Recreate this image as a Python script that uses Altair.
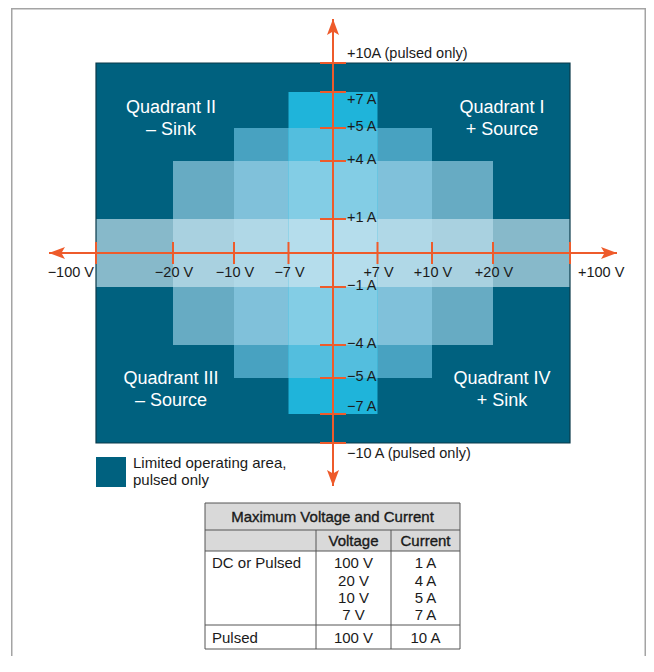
import altair as alt
import pandas as pd

# ------------------------------------------------------------------ data
V_TICKS = [-100, -20, -10, -7, 7, 10, 20, 100]
V_LABELS = ["−100 V", "−20 V", "−10 V", "−7 V", "+7 V", "+10 V", "+20 V", "+100 V"]
A_TICKS = [10, 7, 5, 4, 1, -1, -4, -5, -7, -10]
A_LABELS = ["+10A (pulsed only)", "+7 A", "+5 A", "+4 A", "+1 A",
            "−1 A", "−4 A", "−5 A", "−7 A", "−10 A (pulsed only)"]
LIMIT_V = [100, 20, 10, 7]      # DC / pulsed voltage limits (V)
LIMIT_A = [1, 4, 5, 7]          # matching current limits (A)
PULSED_V = 100
PULSED_A = 10
QUAD_TEXT = ["Quadrant I\n+ Source", "Quadrant II\n– Sink",
             "Quadrant III\n– Source", "Quadrant IV\n+ Sink"]
QUAD_V = [29.4, -22.1, -22.1, 29.4]     # label anchor, volts
QUAD_A = [6.13, 6.13, -5.07, -5.07]     # label anchor (first line), amps
LEGEND_LINES = ["Limited operating area,", "pulsed only"]
TABLE_TITLE = "Maximum Voltage and Current"
TABLE_HEAD = ["Voltage", "Current"]
TABLE_GROUPS = ["DC or Pulsed", "Pulsed"]

# ------------------------------------------------------------------ styles / layout
FONT = "Liberation Sans"
ORANGE = "#ee5b2b"
DARK = "#00617f"
INK = "#1a1a1a"
CELL_COLORS = {
    "1": "#87b9ca", "4": "#67abc3", "4+1": "#a9d1e0",
    "5": "#48a2c1", "5+4": "#80c1da", "5+4+1": "#b0d8e7",
    "7": "#1fb4da", "7+5": "#53bede", "7+5+4": "#83cde5", "7+5+4+1": "#b5ddec",
}
W, H = 635, 648
PAD_L, PAD_T = 3, 0


def px(x):
    return x - 8 - PAD_L


def py(y):
    return y - 8 - PAD_T


AXIS_V_END = 150
AXIS_A_END = 12
X_DOM = [-150, -100, -20, -10, -7, 0, 7, 10, 20, 100, 150]
X_PAGE = [49, 96, 173, 234, 288.5, 333, 377.5, 432, 493, 570, 617]
Y_DOM = [-12, -10, -7, -5, -4, -1, 0, 1, 4, 5, 7, 10, 12]
Y_PAGE = [486, 443, 414, 378, 345, 287, 253, 219, 161, 128, 92, 63, 19]


def vx(field):
    return alt.X(field, type="quantitative", axis=None,
                 scale=alt.Scale(type="linear", domain=X_DOM,
                                 range=[px(p) for p in X_PAGE], nice=False, zero=False))


def ay(field):
    return alt.Y(field, type="quantitative", axis=None,
                 scale=alt.Scale(type="linear", domain=Y_DOM,
                                 range=[py(p) for p in Y_PAGE], nice=False, zero=False))


def lx(field):
    return alt.X(field, type="quantitative", axis=None,
                 scale=alt.Scale(domain=[0, W], range=[0, W], nice=False, zero=False))


def ly(field):
    return alt.Y(field, type="quantitative", axis=None,
                 scale=alt.Scale(domain=[0, H], range=[0, H], nice=False, zero=False))


layers = []

# pulsed-only background box
box = pd.DataFrame({"v1": [-PULSED_V], "v2": [PULSED_V], "a1": [-PULSED_A], "a2": [PULSED_A]})
layers.append(alt.Chart(box).mark_rect(fill=DARK, strokeWidth=0).encode(
    x=vx("v1"), x2="v2", y=ay("a1"), y2="a2"))

# operating regions: painted so that overlaps get their own shade
order_keys = [["1"], ["4", "4+1"], ["5", "5+4", "5+4+1"], ["7", "7+5", "7+5+4", "7+5+4+1"]]
cells = []
for k, keys in enumerate(order_keys):
    for j, key in enumerate(keys):
        v = LIMIT_V[k]
        a = LIMIT_A[k - j]
        cells.append({"v1": -v, "v2": v, "a1": -a, "a2": a, "key": key, "o": len(cells)})
cells = pd.DataFrame(cells)
layers.append(alt.Chart(cells).mark_rect(strokeWidth=0).encode(
    x=vx("v1"), x2="v2", y=ay("a1"), y2="a2",
    color=alt.Color("key:N", legend=None,
                    scale=alt.Scale(domain=list(CELL_COLORS), range=list(CELL_COLORS.values()))),
    order=alt.Order("o:Q")))

layers.append(alt.Chart(box).mark_rect(fillOpacity=0, stroke="#0b3a4a", strokeWidth=1.2).encode(
    x=vx("v1"), x2="v2", y=ay("a1"), y2="a2"))

# quadrant labels
quad = pd.DataFrame({"v": QUAD_V, "a": QUAD_A, "t": QUAD_TEXT})
layers.append(alt.Chart(quad).mark_text(
    color="white", font=FONT, fontSize=18, lineBreak="\n", lineHeight=22,
    align="center", baseline="middle").encode(x=vx("v"), y=ay("a"), text="t:N"))

# axis lines
hline = pd.DataFrame({"v1": [-AXIS_V_END], "v2": [AXIS_V_END], "a": [0]})
vline = pd.DataFrame({"a1": [-AXIS_A_END], "a2": [AXIS_A_END], "v": [0]})
layers.append(alt.Chart(hline).mark_rule(color=ORANGE, strokeWidth=2).encode(
    x=vx("v1"), x2="v2", y=ay("a")))
layers.append(alt.Chart(vline).mark_rule(color=ORANGE, strokeWidth=2).encode(
    y=ay("a1"), y2="a2", x=vx("v")))

# ticks
vt = pd.DataFrame({"v": V_TICKS, "a": 0, "t": V_LABELS})
at = pd.DataFrame({"a": A_TICKS, "v": 0, "t": A_LABELS})
layers.append(alt.Chart(vt).mark_rule(color=ORANGE, strokeWidth=2, yOffset=-11, y2Offset=11).encode(
    x=vx("v"), y=ay("a"), y2="a"))
layers.append(alt.Chart(at).mark_rule(color=ORANGE, strokeWidth=2, xOffset=-13, x2Offset=13).encode(
    y=ay("a"), x=vx("v"), x2="v"))

# arrow heads
arrows = pd.DataFrame({
    "v": [-AXIS_V_END, AXIS_V_END, 0, 0],
    "a": [0, 0, AXIS_A_END, -AXIS_A_END],
    "shape": ["M0,0L2,-0.75L1.55,0L2,0.75Z", "M0,0L-2,-0.75L-1.55,0L-2,0.75Z",
              "M0,0L0.75,2L0,1.55L-0.75,2Z", "M0,0L0.75,-2L0,-1.55L-0.75,-2Z"],
})
layers.append(alt.Chart(arrows).mark_point(filled=True, size=256, opacity=1, color=ORANGE,
                                           strokeWidth=0).encode(
    x=vx("v"), y=ay("a"), shape=alt.Shape("shape:N", scale=None)))

# voltage labels
txt = dict(font=FONT, fontSize=14.5, color=INK, baseline="middle")
layers.append(alt.Chart(vt[vt.v.abs() < 100]).mark_text(align="center", dx=1, dy=20, **txt).encode(
    x=vx("v"), y=ay("a"), text="t:N"))
layers.append(alt.Chart(vt[vt.v < -99]).mark_text(align="right", dx=-2, dy=20, **txt).encode(
    x=vx("v"), y=ay("a"), text="t:N"))
layers.append(alt.Chart(vt[vt.v > 99]).mark_text(align="left", dx=8, dy=20, **txt).encode(
    x=vx("v"), y=ay("a"), text="t:N"))

# current labels
A_DY = {10: -9, 7: 7.5, -7: -7.5, -10: 10.5}
at["dy"] = [A_DY.get(a, -1) for a in at.a]
for dy_val in sorted(set(at.dy)):
    sub = at[at.dy == dy_val]
    layers.append(alt.Chart(sub).mark_text(align="left", dx=14, dy=dy_val, **txt).encode(
        x=vx("v"), y=ay("a"), text="t:N"))

# ------------------------------------------------------------------ layout layer (frame, legend, table)
fr_v = pd.DataFrame({"x": [0.75, W - 0.75], "y1": [0.0, 0.0], "y2": [H + 30, H + 30]})
fr_h = pd.DataFrame({"x1": [0.0], "x2": [W], "y": [0.75]})
layers.append(alt.Chart(fr_v).mark_rule(color="#a4a4a4", strokeWidth=1.5).encode(
    x=lx("x"), y=ly("y1"), y2="y2"))
layers.append(alt.Chart(fr_h).mark_rule(color="#a4a4a4", strokeWidth=1.5).encode(
    x=lx("x1"), x2="x2", y=ly("y")))

leg = pd.DataFrame({"x1": [px(96)], "x2": [px(126)], "y1": [py(457)], "y2": [py(487)]})
layers.append(alt.Chart(leg).mark_rect(fill=DARK).encode(x=lx("x1"), x2="x2", y=ly("y1"), y2="y2"))
legt = pd.DataFrame({"x": [px(133)] * 2, "y": [py(462.5), py(480)], "t": LEGEND_LINES})
layers.append(alt.Chart(legt).mark_text(font=FONT, fontSize=15, color=INK, align="left",
                                        baseline="middle").encode(x=lx("x"), y=ly("y"), text="t:N"))

COL_EDGES = [205, 316, 391, 460]
ROW_EDGES = [503, 530, 551, 625, 649]
BODY_Y = [563, 580.5, 597.5, 614.5]
PULSED_Y = 637.5
HEAD_Y = 540.5
TITLE_Y = 517
GRID = "#555555"

hdr = pd.DataFrame({"x1": [px(COL_EDGES[0])], "x2": [px(COL_EDGES[-1])],
                    "y1": [py(ROW_EDGES[0])], "y2": [py(ROW_EDGES[2])]})
layers.append(alt.Chart(hdr).mark_rect(fill="#d9d9d9").encode(x=lx("x1"), x2="x2", y=ly("y1"), y2="y2"))

hl = pd.DataFrame({"x1": px(COL_EDGES[0]), "x2": px(COL_EDGES[-1]), "y": [py(r) for r in ROW_EDGES]})
layers.append(alt.Chart(hl).mark_rule(color=GRID, strokeWidth=1).encode(x=lx("x1"), x2="x2", y=ly("y")))
vl = pd.DataFrame({"x": [px(c) for c in COL_EDGES],
                   "y1": [py(ROW_EDGES[0]), py(ROW_EDGES[1]), py(ROW_EDGES[1]), py(ROW_EDGES[0])],
                   "y2": py(ROW_EDGES[-1])})
layers.append(alt.Chart(vl).mark_rule(color=GRID, strokeWidth=1).encode(x=lx("x"), y=ly("y1"), y2="y2"))

col_c = [(COL_EDGES[i] + COL_EDGES[i + 1]) / 2 for i in range(3)]
tcells = [{"x": px((COL_EDGES[0] + COL_EDGES[-1]) / 2), "y": py(TITLE_Y), "t": TABLE_TITLE, "al": "center", "w": "head"}]
for i, hname in enumerate(TABLE_HEAD):
    tcells.append({"x": px(col_c[i + 1]), "y": py(HEAD_Y), "t": hname, "al": "center", "w": "head"})
tcells.append({"x": px(COL_EDGES[0] + 7), "y": py(BODY_Y[0]), "t": TABLE_GROUPS[0], "al": "left", "w": "body"})
for i in range(len(LIMIT_V)):
    tcells.append({"x": px(col_c[1]), "y": py(BODY_Y[i]), "t": f"{LIMIT_V[i]} V", "al": "center", "w": "body"})
    tcells.append({"x": px(col_c[2]), "y": py(BODY_Y[i]), "t": f"{LIMIT_A[i]} A", "al": "center", "w": "body"})
tcells.append({"x": px(COL_EDGES[0] + 7), "y": py(PULSED_Y), "t": TABLE_GROUPS[1], "al": "left", "w": "body"})
tcells.append({"x": px(col_c[1]), "y": py(PULSED_Y), "t": f"{PULSED_V} V", "al": "center", "w": "body"})
tcells.append({"x": px(col_c[2]), "y": py(PULSED_Y), "t": f"{PULSED_A} A", "al": "center", "w": "body"})
tcells = pd.DataFrame(tcells)
for al in ["center", "left"]:
    for wt in ["head", "body"]:
        sub = tcells[(tcells.al == al) & (tcells.w == wt)]
        if len(sub) == 0:
            continue
        extra = {"stroke": INK, "strokeWidth": 0.35} if wt == "head" else {}
        layers.append(alt.Chart(sub).mark_text(
            font=FONT, fontSize=15, color=INK, align=al, baseline="middle", **extra).encode(
            x=lx("x"), y=ly("y"), text="t:N"))

chart = alt.layer(*layers).resolve_scale(x="independent", y="independent").properties(
    width=W, height=H, autosize="none",
    padding={"left": PAD_L, "top": PAD_T, "right": 0, "bottom": 0},
).configure_view(stroke=None).configure(background="white")

chart.save("out.html", embed_options={"renderer": "svg", "actions": False})
